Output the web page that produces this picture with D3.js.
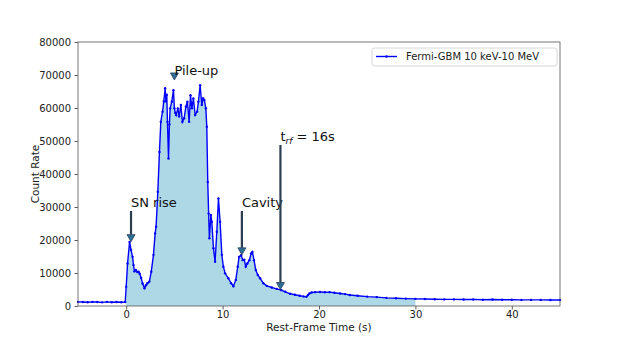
<!DOCTYPE html>
<html><head><meta charset="utf-8">
<script src="https://cdn.jsdelivr.net/npm/d3@7"></script>
<style>body{margin:0;background:#fff}svg{display:block}text{font-family:"DejaVu Sans",sans-serif}</style>
</head><body><svg id="c" width="623" height="350"></svg>
<script>
const times = [-5,-4.5,-4,-3.5,-3,-2.5,-2,-1.5,-1,-0.5,-0.1,
 0,0.14,0.35,0.5,0.66,0.76,0.85,1.0,1.15,1.28,1.4,1.55,1.7,1.9,2.05,2.2,2.4,2.6,2.83,3.0,3.1,3.28,3.45,3.59,3.77,3.9,4.04,4.12,4.21,4.28,4.39,4.48,4.56,4.73,4.9,5.0,5.1,5.18,5.36,5.49,5.67,5.83,6.01,6.19,6.35,6.53,6.67,6.81,6.97,7.15,7.36,7.49,7.67,7.84,7.98,8.11,8.26,8.36,8.46,8.55,8.63,8.78,8.88,9.05,9.22,9.4,9.57,9.74,9.92,10.08,10.26,10.6,10.88,11.12,11.37,11.57,11.71,11.92,12.09,12.25,12.4,12.57,12.78,12.95,13.09,13.26,13.44,13.65,13.89,14.23,14.58,15.1,15.6,16.1,16.5,17,17.5,18,18.4,18.7,18.85,19,19.24,19.6,20.1,20.6,21.1,21.6,22.2,22.7,23.2,24,25,26,27,28,29,30,31,32,33,34,35,36,37,38,39,40,41,42,43,44,45];
const counts = [1250,1200,1150,1250,1200,1100,1250,1150,1200,1150,1200,
 5800,12900,19400,17000,14900,12400,10500,10900,10300,10400,9800,8500,6800,5400,6300,6900,7400,10400,15500,22000,24000,34600,46700,55800,58900,62000,66000,62000,64000,55800,44700,55000,59900,61900,65400,59900,58500,57900,59900,57400,60900,55800,56900,60400,61900,55800,63900,59900,62900,57900,58900,61900,66900,60900,62900,62400,59900,54300,37600,28000,20500,27600,25500,17500,13400,22500,32600,25500,15500,11900,9900,8400,6900,6000,7900,11900,14900,15400,13900,14000,11900,12900,13900,15900,16400,13900,10900,9400,8400,6900,6100,5600,5200,4800,4300,3700,3400,3100,2900,2800,3300,3800,4100,4200,4250,4150,4200,4000,3800,3600,3350,3100,2850,2700,2450,2350,2250,2150,2100,2050,2000,2000,1950,2000,1900,1950,1900,1900,1850,1850,1850,1800,1800];
const xTicks = [0,10,20,30,40];
const yTicks = [0,10000,20000,30000,40000,50000,60000,70000,80000];
const fillRange = [0,30];
const notes = [
 {label:"SN rise", x:0.5, y:19500, tx:0.5, ty:30000},
 {label:"Cavity", x:12, y:15500, tx:12, ty:30000},
 {label:"t_rf = 16s", x:16, y:5000, tx:16, ty:50000},
 {label:"Pile-up", x:5, y:68500, tx:5, ty:70000}
];
const legendLabel = "Fermi-GBM 10 keV-10 MeV";

const svg = d3.select("#c");
const L=78,R=560,T=42,B=306;
const x = d3.scaleLinear().domain([-5,45]).range([L,R]);
const y = d3.scaleLinear().domain([0,80000]).range([B,T]);
const data = times.map((t,i)=>({t, v:counts[i]}));

// fill
const fdata = data.filter(d=>d.t>=fillRange[0] && d.t<=fillRange[1]);
svg.append("path").datum(fdata)
 .attr("d", d3.area().x(d=>x(d.t)).y0(y(0)).y1(d=>y(d.v)))
 .attr("fill","#add8e6");

// line
svg.append("path").datum(data)
 .attr("d", d3.line().x(d=>x(d.t)).y(d=>y(d.v)))
 .attr("fill","none").attr("stroke","#0000ff").attr("stroke-width",1.4);
svg.append("g").selectAll("circle").data(data).join("circle")
 .attr("cx",d=>x(d.t)).attr("cy",d=>y(d.v)).attr("r",1.2).attr("fill","#0000ff");

// axes
const gx = svg.append("g").attr("transform",`translate(0,${B})`)
 .call(d3.axisBottom(x).tickValues(xTicks).tickSize(3.5).tickPadding(1.5).tickFormat(d3.format("d")));
const gy = svg.append("g").attr("transform",`translate(${L},0)`)
 .call(d3.axisLeft(y).tickValues(yTicks).tickSize(3.5).tickPadding(3.5).tickFormat(d3.format("d")));
[gx,gy].forEach(g=>{
 g.select(".domain").remove();
 g.selectAll("line").attr("stroke","#333").attr("stroke-width",0.8);
 g.selectAll("text").attr("font-size",10).attr("fill","#222").attr("font-family","DejaVu Sans");
});
svg.append("rect").attr("x",L).attr("y",T).attr("width",R-L).attr("height",B-T)
 .attr("fill","none").attr("stroke","#555").attr("stroke-width",0.8);

svg.append("text").attr("x",(L+R)/2).attr("y",331).attr("text-anchor","middle")
 .attr("font-size",10.5).attr("fill","#222").text("Rest-Frame Time (s)");
svg.append("text").attr("transform","translate(39,174) rotate(-90)").attr("text-anchor","middle")
 .attr("font-size",10.5).attr("fill","#222").text("Count Rate");

// annotations
notes.forEach(n=>{
 const x1=x(n.x), y1=y(n.y), xt=x(n.tx), yt=y(n.ty);
 const hl=7, hw=4;
 const yStart = yt+4;
 if (y1-yStart > hl) {
  svg.append("line").attr("x1",x1).attr("x2",x1).attr("y1",yStart).attr("y2",y1-hl)
   .attr("stroke","#2c3e50").attr("stroke-width",2.2);
 }
 svg.append("path").attr("d",`M${x1-hw},${y1-hl} L${x1+hw},${y1-hl} L${x1},${y1} Z`)
  .attr("fill","#2b6f99").attr("stroke","#2c3e50").attr("stroke-width",0.8);
 const t = svg.append("text").attr("x",xt).attr("y",yt).attr("font-size",13).attr("fill","#111");
 if (n.label.startsWith("t_rf")) {
   t.append("tspan").text("t");
   t.append("tspan").attr("font-size",9).attr("font-style","italic").attr("dy",3).text("rf");
   t.append("tspan").attr("dy",-3).text(" = 16s");
 } else t.text(n.label);
});

// legend
const lg = svg.append("g");
lg.append("rect").attr("x",372).attr("y",48).attr("width",185).attr("height",18).attr("rx",2.5)
 .attr("fill","#fff").attr("fill-opacity",0.8).attr("stroke","#ccc").attr("stroke-width",0.8);
lg.append("line").attr("x1",376).attr("x2",397).attr("y1",56.5).attr("y2",56.5)
 .attr("stroke","#0000ff").attr("stroke-width",1.4);
lg.append("circle").attr("cx",386.5).attr("cy",56.5).attr("r",1.2).attr("fill","#0000ff");
lg.append("text").attr("x",406).attr("y",60.3).attr("font-size",10).attr("fill","#222").text(legendLabel);
</script></body></html>
